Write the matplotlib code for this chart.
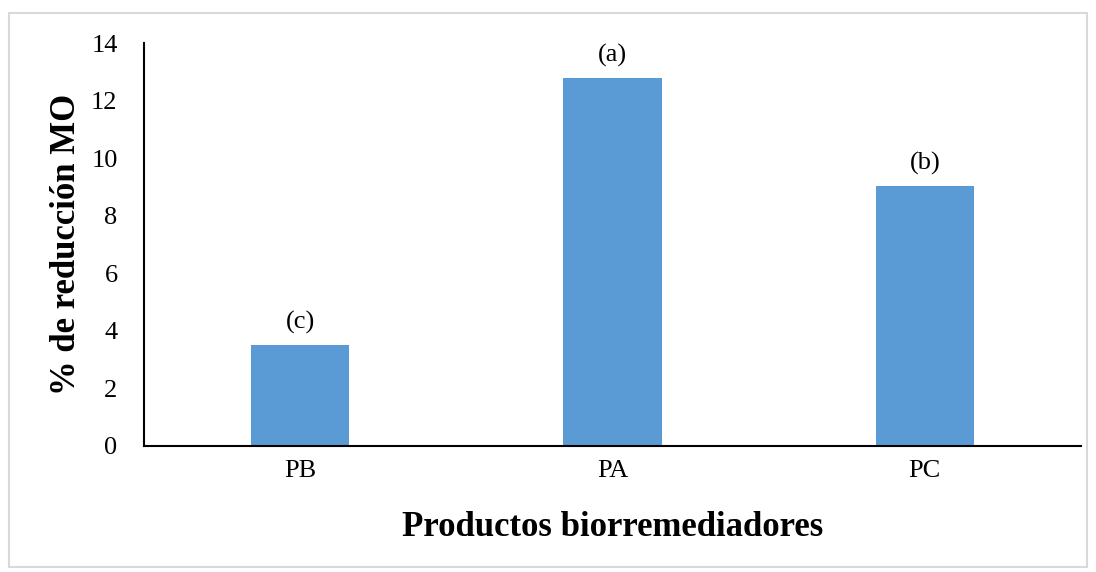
import matplotlib.pyplot as plt
from matplotlib.patches import Rectangle

productos = ['PB', 'PA', 'PC']
reduccion = [3.52, 12.78, 9.03]
letras = ['(c)', '(a)', '(b)']

plt.rcParams['font.family'] = ['Liberation Serif', 'DejaVu Serif']

fig = plt.figure(figsize=(10.96, 5.72), dpi=100)
ax = fig.add_axes([144 / 1096, 1 - 446 / 572, 937 / 1096, 403 / 572])

bars = ax.bar(productos, reduccion, width=0.315, color='#5b9bd5')
for b, t in zip(bars, letras):
    ax.annotate(t, (b.get_x() + b.get_width() / 2, b.get_height()),
                xytext=(0, 8), textcoords='offset points',
                ha='center', va='bottom', fontsize=19)

ax.set_xlim(-0.5, 2.5)
ax.set_ylim(0, 14)
ax.set_yticks(range(0, 15, 2))
ax.tick_params(length=0, labelsize=19)
ax.tick_params(axis='y', pad=19)
ax.tick_params(axis='x', pad=10)
for s in ['top', 'right']:
    ax.spines[s].set_visible(False)
for s in ['left', 'bottom']:
    ax.spines[s].set_linewidth(1.5)

ax.set_xlabel('Productos biorremediadores', fontsize=25, fontweight='bold', labelpad=21)
ax.set_ylabel('% de reducción MO', fontsize=25, fontweight='bold', labelpad=6)

fig.patches.append(Rectangle((9 / 1096, 5 / 572), 1078 / 1096, 554 / 572,
                             transform=fig.transFigure, fill=False,
                             edgecolor='#d9d9d9', linewidth=1.5))

fig.savefig('out.png', dpi=100)
